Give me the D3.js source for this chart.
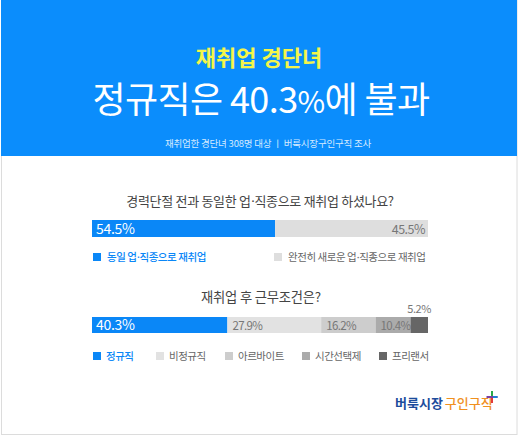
<!DOCTYPE html>
<html><head><meta charset="utf-8">
<script src="https://cdn.jsdelivr.net/npm/d3@7"></script>
<style>body{margin:0;background:#fff}svg{display:block;font-family:"Noto Sans CJK KR","Noto Sans",sans-serif}</style>
</head><body>
<script>
const q1Categories = ["동일 업·직종으로 재취업", "완전히 새로운 업·직종으로 재취업"];
const q1Values = [54.5, 45.5];
const q1Labels = ["54.5%", "45.5%"];
const q2Categories = ["정규직", "비정규직", "아르바이트", "시간선택제", "프리랜서"];
const q2Values = [40.3, 27.9, 16.2, 10.4, 5.2];
const q2Labels = ["40.3%", "27.9%", "16.2%", "10.4%", "5.2%"];
const q1Colors = ["#0a87f7", "#dedede"];
const q2Colors = ["#0a87f7", "#e2e2e2", "#cdcdcd", "#ababab", "#666666"];

const W = 520, H = 436;
const svg = d3.select("body").append("svg").attr("width", W).attr("height", H);

// text helper: renders "·" with a narrow latin font
function addText(sel, str){
  str.split(/(·)/).forEach(part=>{
    if(!part) return;
    const t = sel.append("tspan").text(part);
    if(part==="·") t.style("font-family","'Noto Sans',sans-serif").attr("dx",0.5);
  });
  return sel;
}

svg.append("rect").attr("x",0).attr("y",0).attr("width",W).attr("height",H).attr("fill","#fff");
svg.append("rect").attr("x",1.5).attr("y",0.5).attr("width",515.5).attr("height",434).attr("fill","none").attr("stroke","#dcdcdc");
// header
svg.append("rect").attr("x",1).attr("y",0).attr("width",516).attr("height",156).attr("fill","#0b8dfc");
svg.append("text").attr("x",259).attr("y",66).attr("text-anchor","middle").attr("fill","#f4f54a")
  .attr("font-size",22).attr("font-weight",700).text("재취업 경단녀");
const big = svg.append("text").attr("x",261).attr("y",113).attr("text-anchor","middle").attr("fill","#fff")
  .attr("font-size",36).attr("letter-spacing",-0.6);
big.append("tspan").text("정규직은 40.3");
big.append("tspan").attr("font-size",30).text("%");
big.append("tspan").text("에 불과");
svg.append("text").attr("x",268).attr("y",147).attr("text-anchor","middle").attr("fill","#d6ebff")
  .attr("font-size",9.5).attr("letter-spacing",-0.2).text("재취업한 경단녀 308명 대상  ㅣ  버룩시장구인구직 조사");

const x = d3.scaleLinear().domain([0, 100]).range([92, 428]);

function stack(vals){ let c=0; return vals.map(v=>{const s=c; c+=v; return [s,c];}); }

// Q1
addText(svg.append("text").attr("x",260).attr("y",206).attr("text-anchor","middle").attr("fill","#444")
  .attr("font-size",13).attr("letter-spacing",-0.3), "경력단절 전과 동일한 업·직종으로 재취업 하셨나요?");
const s1 = stack(q1Values);
const g1 = svg.append("g");
g1.selectAll("rect").data(s1).join("rect")
  .attr("x", d=>x(d[0])).attr("y",220).attr("width", d=>x(d[1])-x(d[0])).attr("height",17)
  .attr("fill",(d,i)=>q1Colors[i]);
g1.append("text").attr("x", x(s1[0][0])+4).attr("y",234).attr("fill","#fff").attr("font-size",14).attr("letter-spacing",-0.3).text(q1Labels[0]);
g1.append("text").attr("x", x(s1[1][1])-3).attr("y",234).attr("text-anchor","end").attr("fill","#777").attr("font-size",12.5).attr("letter-spacing",-0.5).text(q1Labels[1]);
// legend 1
const leg1X = [93, 274];
q1Categories.forEach((c,i)=>{
  svg.append("rect").attr("x",leg1X[i]).attr("y",253).attr("width",8).attr("height",8).attr("fill",q1Colors[i]);
  addText(svg.append("text").attr("x",leg1X[i]+14).attr("y",261).attr("font-size",10.5).attr("letter-spacing",-0.45)
    .attr("fill", i===0 ? "#0a87f7" : "#666").attr("font-weight", i===0?500:400), c);
});

// Q2
svg.append("text").attr("x",261).attr("y",302).attr("text-anchor","middle").attr("fill","#444")
  .attr("font-size",13.3).attr("letter-spacing",-0.2).text("재취업 후 근무조건은?");
const s2 = stack(q2Values);
const g2 = svg.append("g");
g2.selectAll("rect").data(s2).join("rect")
  .attr("x", d=>x(d[0])).attr("y",317).attr("width", d=>x(d[1])-x(d[0])).attr("height",16)
  .attr("fill",(d,i)=>q2Colors[i]);
s2.forEach((d,i)=>{
  if(i<4){
    g2.append("text").attr("x", x(d[0])+(i===0?4:5)).attr("y",330)
      .attr("fill", i===0?"#fff":"#777").attr("font-size", i===0?14:11.5).attr("letter-spacing", i===0?-0.3:-0.6).text(q2Labels[i]);
  } else {
    g2.append("text").attr("x", x(d[1])+3).attr("y",313).attr("text-anchor","end")
      .attr("fill","#777").attr("font-size",11).attr("letter-spacing",-0.4).text(q2Labels[i]);
  }
});
const leg2X = [93, 156, 225, 302, 379];
q2Categories.forEach((c,i)=>{
  svg.append("rect").attr("x",leg2X[i]).attr("y",352).attr("width",8).attr("height",8).attr("fill",q2Colors[i]);
  svg.append("text").attr("x",leg2X[i]+13).attr("y",360).attr("font-size",10.5).attr("letter-spacing",-0.5)
    .attr("fill", i===0 ? "#0a87f7" : "#666").attr("font-weight", i===0?500:400).text(c);
});

// logo
const logo = svg.append("text").attr("x",395).attr("y",408).attr("font-size",13).attr("font-weight",700);
logo.append("tspan").attr("fill","#1c4c9c").text("버룩시장");
logo.append("tspan").attr("fill","#f0901e").attr("font-weight",500).attr("dx",2).text("구인구직");
const p = svg.append("g").attr("transform","translate(492,397)");
p.append("rect").attr("x",-1).attr("y",-6).attr("width",2).attr("height",12).attr("fill","#2aa84a");
p.append("rect").attr("x",-5.5).attr("y",-1).attr("width",11).attr("height",2).attr("fill","#7b3fa0");
p.append("rect").attr("x",-1).attr("y",1).attr("width",2).attr("height",5).attr("fill","#e23a3a");
p.append("rect").attr("x",1).attr("y",-1).attr("width",4.5).attr("height",2).attr("fill","#1e7fd8");
</script>
</body></html>
